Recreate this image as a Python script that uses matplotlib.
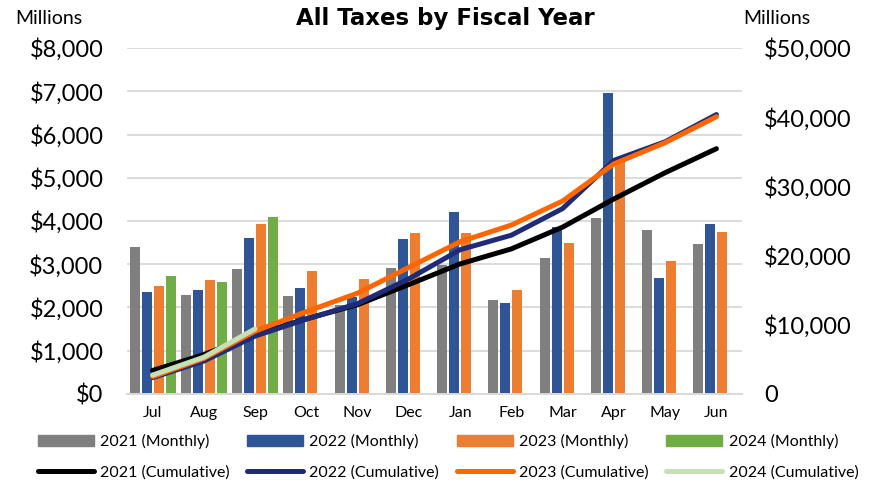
import numpy as np
import matplotlib.pyplot as plt
from matplotlib.patches import Patch
from matplotlib.lines import Line2D
from matplotlib.ticker import FuncFormatter

plt.rcParams['font.family'] = ['Lato', 'DejaVu Sans']

months = ['Jul', 'Aug', 'Sep', 'Oct', 'Nov', 'Dec', 'Jan', 'Feb', 'Mar', 'Apr', 'May', 'Jun']

# monthly collections, $ millions
m2021 = [3400, 2290, 2890, 2270, 2060, 2910, 2980, 2170, 3150, 4070, 3790, 3470]
m2022 = [2360, 2400, 3610, 2450, 2240, 3580, 4210, 2100, 3850, 6960, 2690, 3930]
m2023 = [2500, 2640, 3930, 2840, 2660, 3720, 3720, 2400, 3480, 5360, 3070, 3750]
m2024 = [2730, 2590, 4090]

# cumulative, $ millions (right axis)
c2021 = [3400, 5690, 8580, 10850, 12910, 15820, 18800, 20970, 24120, 28190, 31980, 35450]
c2022 = [2360, 4760, 8370, 10820, 13060, 16640, 20850, 22950, 26800, 33760, 36450, 40380]
c2023 = [2500, 5140, 9070, 11910, 14570, 18290, 22010, 24410, 27890, 33250, 36320, 40070]
c2024 = [2730, 5320, 9410]

bar_colors = ['#7f7f7f', '#2f5597', '#ed7d31', '#70ad47']
line_colors = ['#000000', '#1f2b78', '#ff6600', '#c5e0b4']

fig = plt.figure(figsize=(8.77, 4.82), dpi=100)
ax = fig.add_axes([0.1448, 0.1826, 0.7013, 0.7178])
ax2 = ax.twinx()

x = np.arange(len(months))
slot = 0.2345
w = 0.195
for i, (vals, col) in enumerate(zip([m2021, m2022, m2023, m2024], bar_colors)):
    xi = np.arange(len(vals)) + (i - 1.5) * slot
    ax.bar(xi, vals, width=w, color=col, zorder=2)

for vals, col in zip([c2021, c2022, c2023, c2024], line_colors):
    ax2.plot(np.arange(len(vals)), vals, color=col, lw=3.6, solid_capstyle='round', zorder=3)

ax.set_xlim(-0.5, 11.5)
ax.set_ylim(0, 8000)
ax2.set_ylim(0, 50000)
ax.set_yticks(np.arange(0, 8001, 1000))
ax2.set_yticks(np.arange(0, 50001, 10000))
ax.yaxis.set_major_formatter(FuncFormatter(lambda v, p: '${:,.0f}'.format(v)))
ax2.yaxis.set_major_formatter(FuncFormatter(lambda v, p: '0' if v == 0 else '${:,.0f}'.format(v)))
ax.set_xticks(x)
ax.set_xticklabels(months)

ax.grid(axis='y', color='#d9d9d9', lw=1.3, zorder=0)
ax.set_axisbelow(True)
for a in (ax, ax2):
    for s in ['top', 'left', 'right']:
        a.spines[s].set_visible(False)
    a.spines['bottom'].set_color('#d9d9d9')
    a.spines['bottom'].set_linewidth(1.3)
    a.tick_params(length=0)
ax.tick_params(axis='y', labelsize=17, pad=17)
ax2.tick_params(axis='y', labelsize=17, pad=16)
ax.tick_params(axis='x', labelsize=11.5, pad=9)

fig.text(445 / 877, 1 - 18 / 482, 'All Taxes by Fiscal Year', ha='center', va='center',
         fontsize=16.5, fontweight='bold', family='DejaVu Sans')
fig.text(15 / 877, 1 - 18 / 482, 'Millions', ha='left', va='center', fontsize=14)
fig.text(743 / 877, 1 - 18 / 482, 'Millions', ha='left', va='center', fontsize=14)

labels_m = ['2021 (Monthly)', '2022 (Monthly)', '2023 (Monthly)', '2024 (Monthly)']
labels_c = ['2021 (Cumulative)', '2022 (Cumulative)', '2023 (Cumulative)', '2024 (Cumulative)']
handles, labels = [], []
for i in range(4):
    handles.append(Patch(color=bar_colors[i]))
    labels.append(labels_m[i])
    handles.append(Line2D([], [], color=line_colors[i], lw=3.6, solid_capstyle='round'))
    labels.append(labels_c[i])
fig.legend(handles, labels, ncol=4, loc='center', bbox_to_anchor=(448 / 877, 1 - 457 / 482),
           frameon=False, fontsize=11.5, handlelength=3.5, handleheight=0.7,
           columnspacing=1.1, labelspacing=1.0, handletextpad=0.4)

fig.savefig('out.png', dpi=100)
